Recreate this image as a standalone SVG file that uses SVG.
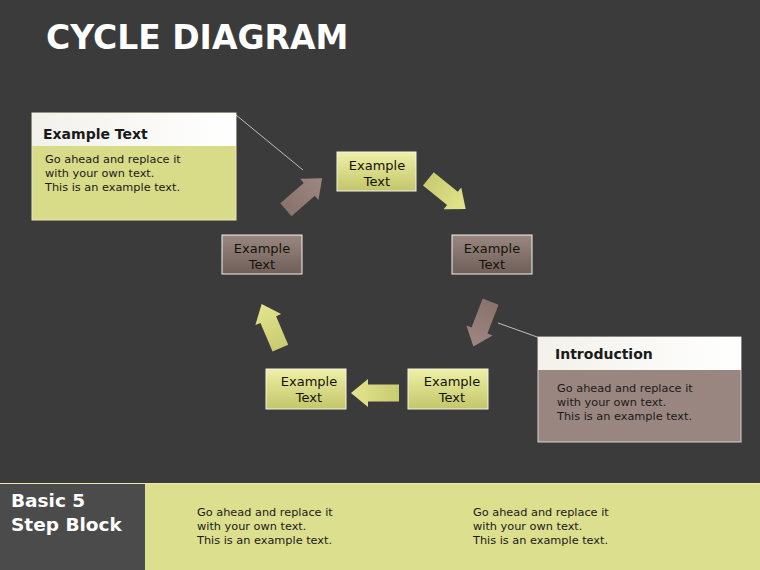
<svg xmlns="http://www.w3.org/2000/svg" width="760" height="570" viewBox="0 0 760 570">
<defs>
<linearGradient id="gGreen" x1="0" y1="0" x2="0" y2="1">
<stop offset="0" stop-color="#eef0a6"/><stop offset="1" stop-color="#c3c66a"/>
</linearGradient>
<linearGradient id="gBrown" x1="0" y1="0" x2="0" y2="1">
<stop offset="0" stop-color="#9a8781"/><stop offset="1" stop-color="#6f5e59"/>
</linearGradient>
<linearGradient id="gHead" x1="0" y1="0" x2="1" y2="0">
<stop offset="0" stop-color="#f2f1ea"/><stop offset="1" stop-color="#ffffff"/>
</linearGradient>
<linearGradient id="gArrG" x1="0" y1="0" x2="1" y2="0">
<stop offset="0" stop-color="#c8cb70"/><stop offset="1" stop-color="#e4e68f"/>
</linearGradient>
<linearGradient id="gArrB" x1="0" y1="0" x2="1" y2="0">
<stop offset="0" stop-color="#8a736d"/><stop offset="1" stop-color="#9e8781"/>
</linearGradient>
<path id="arrow" d="M-24,-8.5 L7,-8.5 L7,-14 L24,0 L7,14 L7,8.5 L-24,8.5 Z"/>
</defs>
<style>
text{font-family:"DejaVu Sans","Liberation Sans",sans-serif;}
.title{font-size:33px;font-weight:bold;fill:#ffffff;}
.node{stroke:#f4f4e8;stroke-width:1;}
.nt{font-size:13px;fill:#141408;text-anchor:middle;}
.hd{font-size:14px;font-weight:bold;fill:#1a1a1a;}
.bd{font-size:11.3px;fill:#1a1a1a;}
.lead{stroke:#bdbdbd;stroke-width:1;fill:none;}
.big{font-size:18.5px;font-weight:bold;fill:#ffffff;}
</style>
<rect x="0" y="0" width="760" height="570" fill="#3b3b3b"/>
<text class="title" x="46" y="49">CYCLE DIAGRAM</text>

<g id="connectors">
<line class="lead" x1="236" y1="115" x2="303" y2="170"/>
<line class="lead" x1="498" y1="323" x2="540" y2="338"/>
<use href="#arrow" fill="url(#gArrB)" transform="translate(304,194) rotate(-41)"/>
<use href="#arrow" fill="url(#gArrG)" transform="translate(447,194) rotate(39)"/>
<use href="#arrow" fill="url(#gArrB)" transform="translate(482,324) rotate(111)"/>
<use href="#arrow" fill="url(#gArrG)" transform="translate(375,393) rotate(180)"/>
<use href="#arrow" fill="url(#gArrG)" transform="translate(271,326) rotate(-113)"/>
</g>

<g id="callout1">
<rect x="32" y="113" width="204" height="107" fill="#d8db88" stroke="#e8e8c0" stroke-width="1"/>
<rect x="32" y="113" width="204" height="33" fill="url(#gHead)"/>
<text class="hd" x="43" y="139">Example Text</text>
<text class="bd" x="45" y="163">Go ahead and replace it</text>
<text class="bd" x="45" y="177">with your own text.</text>
<text class="bd" x="45" y="191">This is an example text.</text>
</g>

<g id="node-top">
<rect class="node" x="337" y="152" width="79" height="39" fill="url(#gGreen)"/>
<text class="nt" x="377" y="170">Example</text>
<text class="nt" x="377" y="186">Text</text>
</g>
<g id="node-left">
<rect class="node" x="222" y="235" width="80" height="39" fill="url(#gBrown)"/>
<text class="nt" x="262" y="253">Example</text>
<text class="nt" x="262" y="269">Text</text>
</g>
<g id="node-right">
<rect class="node" x="452" y="235" width="80" height="39" fill="url(#gBrown)"/>
<text class="nt" x="492" y="253">Example</text>
<text class="nt" x="492" y="269">Text</text>
</g>
<g id="node-bottom-left">
<rect class="node" x="266" y="369" width="80" height="40" fill="url(#gGreen)"/>
<text class="nt" x="309" y="386">Example</text>
<text class="nt" x="309" y="402">Text</text>
</g>
<g id="node-bottom-right">
<rect class="node" x="408" y="369" width="80" height="40" fill="url(#gGreen)"/>
<text class="nt" x="452" y="386">Example</text>
<text class="nt" x="452" y="402">Text</text>
</g>

<g id="callout2">
<rect x="538" y="337" width="203" height="105" fill="#9a8680" stroke="#d8d0cc" stroke-width="1"/>
<rect x="538" y="337" width="203" height="33" fill="url(#gHead)"/>
<text class="hd" x="555" y="359">Introduction</text>
<text class="bd" x="557" y="392">Go ahead and replace it</text>
<text class="bd" x="557" y="406">with your own text.</text>
<text class="bd" x="557" y="420">This is an example text.</text>
</g>

<g id="bottom-band">
<rect x="0" y="483" width="760" height="87" fill="#dcdf8e"/>
<line x1="0" y1="483.5" x2="760" y2="483.5" stroke="#e8eab0" stroke-width="1"/>
<rect x="0" y="484" width="145" height="86" fill="#4b4b4b"/>
<text class="big" x="11" y="507">Basic 5</text>
<text class="big" x="11" y="531">Step Block</text>
<text class="bd" x="197" y="516">Go ahead and replace it</text>
<text class="bd" x="197" y="530">with your own text.</text>
<text class="bd" x="197" y="544">This is an example text.</text>
<text class="bd" x="473" y="516">Go ahead and replace it</text>
<text class="bd" x="473" y="530">with your own text.</text>
<text class="bd" x="473" y="544">This is an example text.</text>
</g>
</svg>
